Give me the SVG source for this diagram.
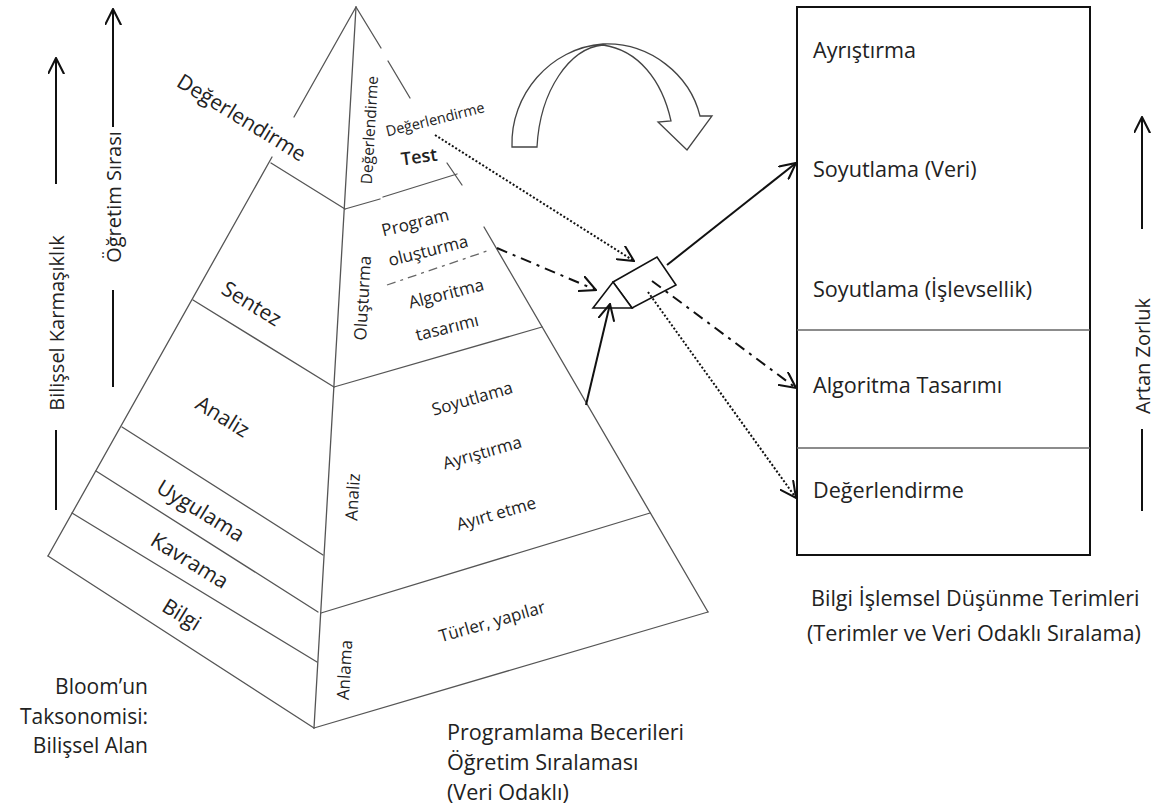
<svg xmlns="http://www.w3.org/2000/svg" width="1157" height="811" viewBox="0 0 1157 811">
  <style>
    .edge { stroke: #555; stroke-width: 1.3; fill: none; stroke-linecap: round; }
    .box { stroke: #111; stroke-width: 2; fill: #fff; }
    .sep { stroke: #666; stroke-width: 1.3; }
    .arr { stroke: #111; stroke-width: 2; fill: none; }
    .dot { stroke-dasharray: 2 2; }
    .dd { stroke-dasharray: 11 6 3 6; }
    .ddg { stroke: #666; stroke-width: 1.3; stroke-dasharray: 9 5 3 5; fill: none; }
    text { font-family: "Open Sans", "Noto Sans", "DejaVu Sans", sans-serif; fill: #222; }
    .t21 { font-size: 21px; }
    .t22 { font-size: 21.6px; }
    .t20 { font-size: 20px; }
    .t17 { font-size: 17px; }
    .c { text-anchor: middle; dominant-baseline: central; }
  </style>
  <defs>
    <marker id="open" viewBox="0 0 12 12" refX="11.5" refY="6" markerWidth="17" markerHeight="17" markerUnits="userSpaceOnUse" orient="auto">
      <path d="M0.5,0.5 L11.5,6 L0.5,11.5" fill="none" stroke="#111" stroke-width="1.45" stroke-linecap="round" stroke-linejoin="miter"/>
    </marker>
  </defs>
  <rect width="1157" height="811" fill="#fff"/>

  <!-- side scales on the left -->
  <g id="scale-karmasiklik">
    <line class="arr" x1="56" y1="184" x2="56" y2="58" marker-end="url(#open)"/>
    <text class="t20 c" transform="translate(56,323) rotate(-90)">Bilişsel Karmaşıklık</text>
    <line class="arr" x1="56" y1="430" x2="56" y2="510"/>
  </g>
  <g id="scale-ogretim">
    <line class="arr" x1="113" y1="127" x2="113" y2="9" marker-end="url(#open)"/>
    <text class="t20 c" transform="translate(113,197) rotate(-90)">Öğretim Sırası</text>
    <line class="arr" x1="113" y1="290" x2="113" y2="387"/>
  </g>

  <!-- pyramid outline -->
  <g id="pyramid">
    <!-- left edge, broken by the top label -->
    <line class="edge" x1="356" y1="7" x2="294" y2="117"/>
    <line class="edge" x1="272" y1="157" x2="48" y2="556"/>
    <!-- middle edge -->
    <line class="edge" x1="356" y1="7" x2="314" y2="728"/>
    <!-- right edge, broken by the small labels -->
    <line class="edge" x1="356" y1="7" x2="381" y2="48"/>
    <line class="edge" x1="388" y1="61" x2="410" y2="98"/>
    <line class="edge" x1="484" y1="227" x2="708" y2="612"/>
    <!-- left face (Bloom levels) -->
    <line class="edge" x1="271" y1="163" x2="345" y2="209"/>
    <line class="edge" x1="193" y1="300" x2="334" y2="387"/>
    <line class="edge" x1="122" y1="427" x2="323" y2="555"/>
    <line class="edge" x1="96" y1="471" x2="318" y2="612"/>
    <line class="edge" x1="72" y1="513" x2="317" y2="662"/>
    <line class="edge" x1="48" y1="556" x2="314" y2="728"/>
    <!-- right face (programming skills) -->
    <line class="edge" x1="345" y1="209" x2="380" y2="199"/>
    <line class="edge" x1="383" y1="197" x2="457" y2="174"/>
    <line class="edge" x1="447" y1="163" x2="462" y2="185"/>
    <line class="edge" x1="334" y1="387" x2="542" y2="327"/>
    <line class="edge" x1="321" y1="613" x2="650" y2="513"/>
    <line class="edge" x1="314" y1="728" x2="708" y2="612"/>
    <line class="ddg" x1="387" y1="285" x2="490" y2="250"/>
  </g>

  <g id="bloom-labels">
    <text class="t21 c" transform="translate(242,117) rotate(31.5)">Değerlendirme</text>
    <text class="t21 c" transform="translate(252,303) rotate(31.5)">Sentez</text>
    <text class="t21 c" transform="translate(223,416) rotate(31.5)">Analiz</text>
    <text class="t21 c" transform="translate(201,510) rotate(31.5)">Uygulama</text>
    <text class="t21 c" transform="translate(190,560) rotate(31.5)">Kavrama</text>
    <text class="t21 c" transform="translate(182,614) rotate(31.5)">Bilgi</text>
  </g>

  <g id="skill-bands">
    <text class="c" style="font-size:15.5px" transform="translate(369,130) rotate(-86.7)">Değerlendirme</text>
    <text class="t17 c" transform="translate(362,298) rotate(-86.7)">Oluşturma</text>
    <text class="t17 c" transform="translate(352,497) rotate(-86.7)">Analiz</text>
    <text class="t17 c" transform="translate(344,670) rotate(-86.7)">Anlama</text>
  </g>

  <g id="skill-items">
    <text class="c" style="font-size:14.5px" transform="translate(435,119) rotate(-14)">Değerlendirme</text>
    <text class="c" style="font-size:18px;font-weight:600" transform="translate(419,156) rotate(-8)">Test</text>
    <text class="t17 c" transform="translate(415,222) rotate(-14)">Program</text>
    <text class="t17 c" transform="translate(428,250) rotate(-14)">oluşturma</text>
    <text class="t17 c" transform="translate(446,293) rotate(-14)">Algoritma</text>
    <text class="t17 c" transform="translate(447,327) rotate(-14)">tasarımı</text>
    <text class="t17 c" transform="translate(472,398) rotate(-16)">Soyutlama</text>
    <text class="t17 c" transform="translate(482,452) rotate(-16)">Ayrıştırma</text>
    <text class="t17 c" transform="translate(496,513) rotate(-16)">Ayırt etme</text>
    <text class="t17 c" transform="translate(492,621) rotate(-16)">Türler, yapılar</text>
  </g>

  <!-- turning arrow above the pyramid -->
  <g id="turn-arrow">
    <path d="M512,147 C510,95 550,48 603,44 C650,42 690,75 700,116 L712,116 L687,150 L658,122 L671,121 C662,80 638,50 603,45 C570,48 540,90 537,147 Z" fill="#fff" stroke="#444" stroke-width="1.3" stroke-linejoin="miter"/>
  </g>

  <!-- prism collecting the skills -->
  <g id="prism">
    <polygon points="613,282 657,257 676,285 632,308" fill="#fff" stroke="#111" stroke-width="1.6"/>
    <polygon points="593,308 613,282 632,308" fill="#fff" stroke="#111" stroke-width="1.6"/>
  </g>

  <!-- computational thinking terms -->
  <g id="terms-box">
    <rect class="box" x="797" y="7" width="293" height="548"/>
    <line class="sep" x1="797" y1="330" x2="1090" y2="330"/>
    <line class="sep" x1="797" y1="448" x2="1090" y2="448"/>
    <text class="t22" x="813" y="49" dominant-baseline="central">Ayrıştırma</text>
    <text class="t22" x="813" y="168" dominant-baseline="central">Soyutlama (Veri)</text>
    <text class="t22" x="813" y="288" dominant-baseline="central">Soyutlama (İşlevsellik)</text>
    <text class="t22" x="813" y="384" dominant-baseline="central">Algoritma Tasarımı</text>
    <text class="t22" x="813" y="489" dominant-baseline="central">Değerlendirme</text>
  </g>

  <g id="scale-zorluk">
    <line class="arr" x1="1142" y1="229" x2="1142" y2="117" marker-end="url(#open)"/>
    <text class="t20 c" transform="translate(1142,356) rotate(-90)">Artan Zorluk</text>
    <line class="arr" x1="1142" y1="429" x2="1142" y2="511"/>
  </g>

  <!-- connectors -->
  <g id="connectors">
    <line class="arr dot" x1="435" y1="135" x2="634" y2="261" marker-end="url(#open)"/>
    <line class="arr dd" x1="497" y1="248" x2="596" y2="290" marker-end="url(#open)"/>
    <line class="arr" x1="586" y1="405" x2="610" y2="304" marker-end="url(#open)"/>
    <line class="arr" x1="667" y1="265" x2="796" y2="163" marker-end="url(#open)"/>
    <line class="arr dd" x1="652" y1="281" x2="796" y2="388" marker-end="url(#open)"/>
    <line class="arr dot" x1="648" y1="292" x2="796" y2="498" marker-end="url(#open)"/>
  </g>

  <!-- captions -->
  <g id="caption-bloom">
    <text class="t21" x="148" y="686" text-anchor="end" dominant-baseline="central">Bloom’un</text>
    <text class="t21" x="148" y="716" text-anchor="end" dominant-baseline="central">Taksonomisi:</text>
    <text class="t21" x="148" y="745" text-anchor="end" dominant-baseline="central">Bilişsel Alan</text>
  </g>
  <g id="caption-skills">
    <text class="t22" x="447" y="731" dominant-baseline="central">Programlama Becerileri</text>
    <text class="t22" x="447" y="761" dominant-baseline="central">Öğretim Sıralaması</text>
    <text class="t22" x="447" y="791" dominant-baseline="central">(Veri Odaklı)</text>
  </g>
  <g id="caption-terms">
    <text class="t22" x="811" y="597" dominant-baseline="central">Bilgi İşlemsel Düşünme Terimleri</text>
    <text class="t22" x="807" y="632" dominant-baseline="central">(Terimler ve Veri Odaklı Sıralama)</text>
  </g>
</svg>
